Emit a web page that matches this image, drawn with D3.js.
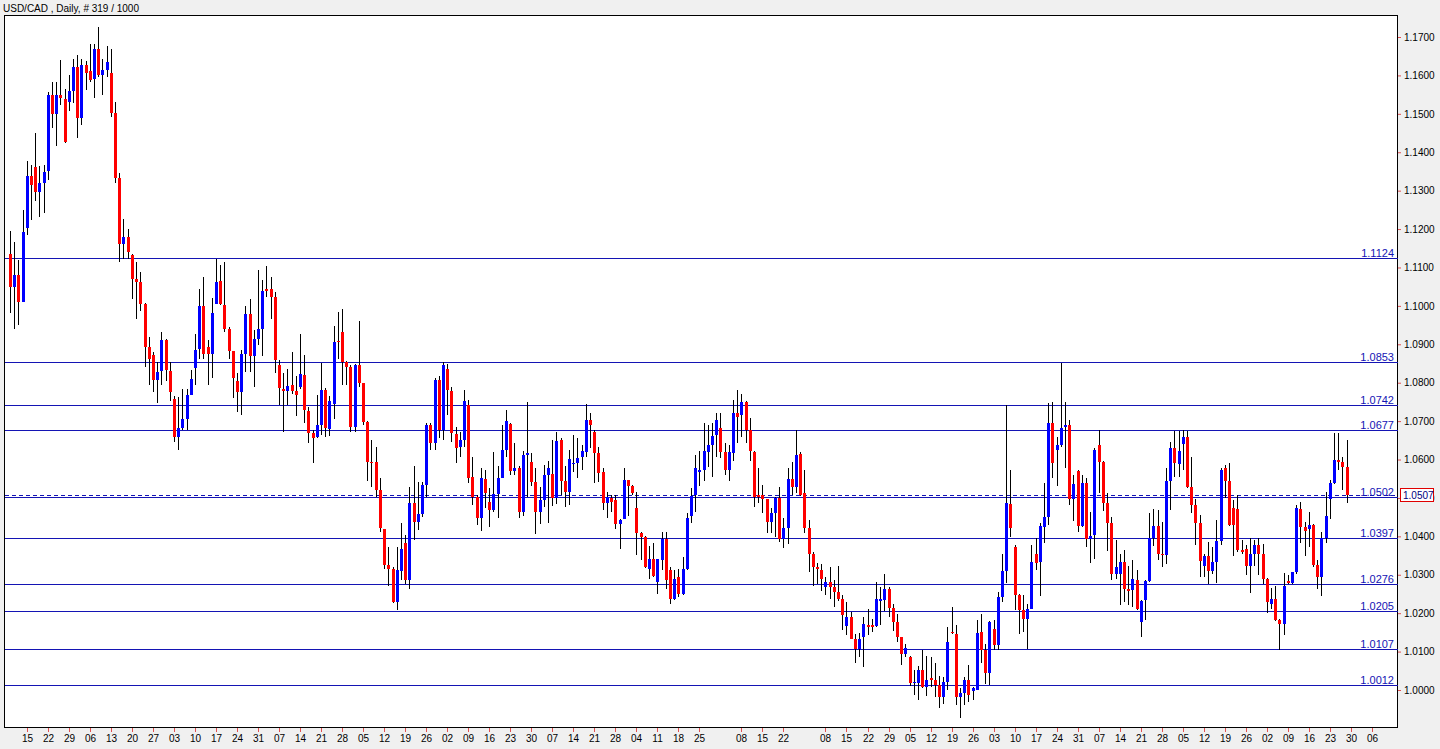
<!DOCTYPE html>
<html><head><meta charset="utf-8">
<script src="https://cdn.jsdelivr.net/npm/d3@7"></script>
<style>html,body{margin:0;padding:0;background:#f0f0f0;}svg{display:block;}</style>
</head><body>
<svg id="chart" width="1440" height="749"></svg>
<script>
// ---------------- DATA (USD/CAD daily) ----------------
const openP = [
1.1136,1.1050,1.1080,1.1011,1.1202,1.1338,1.1361,1.1297,1.1319,1.1352,
1.1549,1.1499,1.1549,1.1538,1.1531,1.1559,1.1622,1.1488,1.1627,1.1612,
1.1590,1.1670,1.1601,1.1614,1.1605,1.1503,1.1332,1.1160,1.1180,1.1132,
1.1071,1.1063,1.1004,1.0893,1.0872,1.0807,1.0830,1.0911,1.0830,1.0757,
1.0659,1.0681,1.0705,1.0769,1.0837,1.0887,1.0999,1.0893,1.0876,1.1006,
1.1065,1.1002,1.0941,1.0882,1.0805,1.0776,1.0874,1.0979,1.0869,1.0915,
1.0939,1.1043,1.1044,1.1024,1.0846,1.0783,1.0779,1.0794,1.0778,1.0788,
1.0820,1.0726,1.0670,1.0659,1.0690,1.0781,1.0679,1.0744,1.0909,1.0933,
1.0855,1.0842,1.0685,1.0846,1.0798,1.0698,1.0594,1.0594,1.0520,1.0418,
1.0325,1.0316,1.0230,1.0310,1.0382,1.0286,1.0488,1.0438,1.0458,1.0533,
1.0690,1.0644,1.0807,1.0677,1.0835,1.0779,1.0666,1.0633,1.0651,1.0742,
1.0555,1.0503,1.0449,1.0549,1.0490,1.0468,1.0510,1.0553,1.0626,1.0692,
1.0571,1.0579,1.0464,1.0612,1.0594,1.0542,1.0464,1.0494,1.0559,1.0562,
1.0501,1.0651,1.0545,1.0516,1.0590,1.0592,1.0607,1.0620,1.0703,1.0672,
1.0618,1.0567,1.0488,1.0500,1.0494,1.0431,1.0446,1.0546,1.0531,1.0474,
1.0410,1.0399,1.0316,1.0340,1.0282,1.0338,1.0392,1.0312,1.0237,1.0293,
1.0251,1.0315,1.0454,1.0507,1.0568,1.0572,1.0620,1.0638,1.0664,1.0681,
1.0620,1.0572,1.0618,1.0722,1.0717,1.0750,1.0677,1.0620,1.0507,1.0507,
1.0496,1.0438,1.0461,1.0501,1.0392,1.0421,1.0549,1.0529,1.0614,1.0512,
1.0421,1.0354,1.0321,1.0312,1.0267,1.0280,1.0269,1.0256,1.0237,1.0166,
1.0191,1.0134,1.0106,1.0137,1.0169,1.0169,1.0166,1.0232,1.0234,1.0263,
1.0214,1.0176,1.0137,1.0095,1.0086,1.0017,1.0019,1.0053,1.0008,1.0032,
1.0027,1.0013,0.9982,1.0020,1.0151,1.0145,0.9982,0.9993,1.0026,0.9998,
1.0001,1.0151,1.0105,1.0045,1.0158,1.0117,1.0243,1.0310,1.0484,1.0373,
1.0247,1.0208,1.0184,1.0212,1.0354,1.0334,1.0425,1.0451,1.0696,1.0626,
1.0637,1.0685,1.0690,1.0496,1.0571,1.0427,1.0539,1.0392,1.0403,1.0637,
1.0594,1.0486,1.0434,1.0303,1.0302,1.0334,1.0262,1.0260,1.0286,1.0178,
1.0234,1.0284,1.0397,1.0427,1.0354,1.0351,1.0544,1.0631,1.0588,1.0640,
1.0659,1.0529,1.0481,1.0435,1.0323,1.0349,1.0310,1.0332,1.0388,1.0578,
1.0544,1.0473,1.0471,1.0364,1.0368,1.0323,1.0355,1.0377,1.0355,1.0290,
1.0225,1.0237,1.0182,1.0171,1.0283,1.0279,1.0306,1.0470,1.0425,1.0419,
1.0429,1.0325,1.0295,1.0396,1.0496,1.0539,1.0600,1.0594,1.0581];
const highP = [
1.1195,1.1167,1.1119,1.1249,1.1377,1.1368,1.1451,1.1364,1.1366,1.1556,
1.1583,1.1583,1.1640,1.1564,1.1601,1.1642,1.1653,1.1642,1.1637,1.1681,
1.1681,1.1725,1.1644,1.1676,1.1670,1.1530,1.1347,1.1226,1.1200,1.1134,
1.1113,1.1089,1.1007,1.0919,1.0879,1.0854,1.0932,1.0913,1.0854,1.0766,
1.0763,1.0783,1.0783,1.0833,1.0928,1.1045,1.1074,1.0911,1.1021,1.1123,
1.1106,1.1115,1.0944,1.0883,1.0824,1.0885,1.1000,1.1019,1.0937,1.1093,
1.1067,1.1104,1.1074,1.1037,1.0859,1.0824,1.0835,1.0881,1.0817,1.0927,
1.0872,1.0737,1.0677,1.0768,1.0852,1.0785,1.0765,1.0947,1.0985,1.0991,
1.0857,1.0846,1.0848,1.0960,1.0800,1.0700,1.0651,1.0633,1.0551,1.0420,
1.0373,1.0319,1.0373,1.0434,1.0403,1.0529,1.0583,1.0542,1.0542,1.0696,
1.0694,1.0813,1.0817,1.0853,1.0848,1.0790,1.0684,1.0672,1.0781,1.0755,
1.0607,1.0507,1.0577,1.0573,1.0525,1.0620,1.0583,1.0690,1.0730,1.0694,
1.0644,1.0583,1.0623,1.0750,1.0618,1.0577,1.0529,1.0586,1.0597,1.0652,
1.0672,1.0655,1.0583,1.0626,1.0664,1.0655,1.0638,1.0744,1.0720,1.0677,
1.0633,1.0579,1.0516,1.0507,1.0507,1.0444,1.0577,1.0548,1.0533,1.0516,
1.0412,1.0401,1.0375,1.0383,1.0341,1.0412,1.0412,1.0321,1.0312,1.0316,
1.0347,1.0460,1.0525,1.0612,1.0622,1.0694,1.0691,1.0694,1.0720,1.0722,
1.0642,1.0638,1.0755,1.0781,1.0770,1.0752,1.0709,1.0622,1.0579,1.0533,
1.0497,1.0473,1.0503,1.0529,1.0448,1.0579,1.0593,1.0678,1.0620,1.0572,
1.0442,1.0360,1.0331,1.0328,1.0295,1.0319,1.0286,1.0323,1.0247,1.0230,
1.0204,1.0147,1.0149,1.0191,1.0212,1.0184,1.0282,1.0269,1.0302,1.0269,
1.0224,1.0199,1.0138,1.0121,1.0088,1.0052,1.0062,1.0105,1.0088,1.0086,
1.0069,1.0036,1.0034,1.0165,1.0215,1.0169,1.0006,1.0034,1.0065,1.0008,
1.0182,1.0197,1.0121,1.0180,1.0182,1.0256,1.0354,1.0742,1.0572,1.0377,
1.0251,1.0247,1.0225,1.0377,1.0395,1.0435,1.0538,1.0748,1.0750,1.0659,
1.0852,1.0750,1.0704,1.0559,1.0573,1.0559,1.0551,1.0464,1.0629,1.0678,
1.0596,1.0513,1.0451,1.0390,1.0355,1.0364,1.0322,1.0338,1.0312,1.0234,
1.0286,1.0460,1.0470,1.0468,1.0438,1.0577,1.0646,1.0674,1.0675,1.0677,
1.0675,1.0607,1.0496,1.0455,1.0355,1.0386,1.0373,1.0442,1.0577,1.0585,
1.0590,1.0494,1.0507,1.0390,1.0377,1.0395,1.0390,1.0396,1.0380,1.0292,
1.0266,1.0270,1.0184,1.0305,1.0299,1.0308,1.0481,1.0490,1.0438,1.0464,
1.0432,1.0338,1.0412,1.0516,1.0546,1.0668,1.0668,1.0607,1.0650];
const lowP = [
1.0982,1.0939,1.0950,1.1009,1.1184,1.1223,1.1274,1.1232,1.1241,1.1327,
1.1464,1.1417,1.1523,1.1425,1.1508,1.1527,1.1438,1.1472,1.1562,1.1583,
1.1542,1.1596,1.1549,1.1596,1.1492,1.1321,1.1115,1.1122,1.1123,1.1018,
1.0965,1.0986,1.0841,1.0794,1.0776,1.0748,1.0795,1.0805,1.0752,1.0646,
1.0624,1.0676,1.0676,1.0767,1.0795,1.0861,1.0861,1.0794,1.0813,1.1004,
1.1002,1.0932,1.0863,1.0761,1.0724,1.0716,1.0829,1.0829,1.0789,1.0898,
1.0869,1.1024,1.0966,1.0824,1.0742,1.0672,1.0742,1.0770,1.0713,1.0783,
1.0696,1.0642,1.0590,1.0655,1.0664,1.0659,1.0661,1.0705,1.0861,1.0794,
1.0794,1.0672,1.0672,1.0789,1.0690,1.0545,1.0529,1.0503,1.0412,1.0316,
1.0270,1.0227,1.0208,1.0286,1.0277,1.0264,1.0390,1.0416,1.0451,1.0503,
1.0625,1.0625,1.0655,1.0651,1.0716,1.0646,1.0592,1.0607,1.0633,1.0538,
1.0481,1.0429,1.0415,1.0473,1.0425,1.0464,1.0449,1.0551,1.0607,1.0559,
1.0559,1.0449,1.0453,1.0503,1.0531,1.0406,1.0432,1.0477,1.0434,1.0479,
1.0484,1.0507,1.0477,1.0481,1.0568,1.0551,1.0573,1.0607,1.0629,1.0538,
1.0542,1.0468,1.0447,1.0464,1.0418,1.0366,1.0444,1.0453,1.0507,1.0351,
1.0338,1.0318,1.0290,1.0294,1.0251,1.0312,1.0264,1.0224,1.0234,1.0243,
1.0247,1.0312,1.0434,1.0464,1.0531,1.0545,1.0581,1.0555,1.0607,1.0605,
1.0561,1.0545,1.0597,1.0642,1.0658,1.0642,1.0597,1.0477,1.0487,1.0461,
1.0409,1.0409,1.0399,1.0386,1.0369,1.0379,1.0507,1.0514,1.0505,1.0408,
1.0308,1.0271,1.0276,1.0258,1.0247,1.0238,1.0217,1.0232,1.0156,1.0143,
1.0132,1.0069,1.0086,1.0059,1.0143,1.0152,1.0165,1.0169,1.0206,1.0191,
1.0154,1.0125,1.0065,1.0085,1.0010,0.9986,0.9975,1.0006,0.9984,1.0008,
0.9982,0.9952,0.9963,1.0001,1.0147,0.9960,0.9928,0.9960,0.9969,0.9975,
1.0000,1.0069,1.0015,1.0013,1.0105,1.0105,1.0228,1.0279,1.0399,1.0208,
1.0147,1.0151,1.0106,1.0210,1.0312,1.0245,1.0383,1.0429,1.0551,1.0531,
1.0633,1.0577,1.0481,1.0440,1.0412,1.0425,1.0371,1.0331,1.0342,1.0513,
1.0467,1.0362,1.0286,1.0290,1.0221,1.0230,1.0221,1.0217,1.0208,1.0137,
1.0182,1.0282,1.0375,1.0338,1.0319,1.0329,1.0468,1.0555,1.0555,1.0574,
1.0527,1.0460,1.0377,1.0295,1.0295,1.0277,1.0302,1.0279,1.0377,1.0499,
1.0427,1.0349,1.0360,1.0355,1.0299,1.0253,1.0322,1.0299,1.0275,1.0201,
1.0212,1.0180,1.0105,1.0143,1.0277,1.0277,1.0302,1.0382,1.0349,1.0373,
1.0321,1.0264,1.0244,1.0382,1.0444,1.0537,1.0574,1.0520,1.0486];
const closeP = [
1.1050,1.1080,1.1011,1.1193,1.1338,1.1314,1.1297,1.1320,1.1349,1.1550,
1.1499,1.1550,1.1540,1.1427,1.1559,1.1621,1.1488,1.1627,1.1605,1.1588,
1.1668,1.1601,1.1614,1.1634,1.1503,1.1333,1.1160,1.1180,1.1139,1.1071,
1.1063,1.1006,1.0893,1.0863,1.0807,1.0828,1.0911,1.0833,1.0776,1.0659,
1.0681,1.0705,1.0769,1.0809,1.0885,1.0999,1.0876,1.0876,1.0982,1.1063,
1.1004,1.0941,1.0882,1.0811,1.0776,1.0874,1.0979,1.0869,1.0915,1.0939,
1.1039,1.1039,1.1024,1.0859,1.0785,1.0779,1.0791,1.0778,1.0768,1.0822,
1.0730,1.0670,1.0657,1.0690,1.0781,1.0681,1.0752,1.0907,1.0907,1.0855,
1.0840,1.0685,1.0846,1.0798,1.0698,1.0594,1.0592,1.0520,1.0422,1.0325,
1.0316,1.0230,1.0312,1.0367,1.0286,1.0488,1.0438,1.0458,1.0533,1.0690,
1.0644,1.0807,1.0677,1.0846,1.0781,1.0668,1.0629,1.0651,1.0752,1.0551,
1.0503,1.0449,1.0553,1.0513,1.0468,1.0510,1.0553,1.0626,1.0700,1.0571,
1.0579,1.0464,1.0612,1.0616,1.0542,1.0464,1.0494,1.0559,1.0579,1.0501,
1.0649,1.0545,1.0516,1.0601,1.0592,1.0605,1.0622,1.0703,1.0690,1.0618,
1.0566,1.0488,1.0503,1.0490,1.0431,1.0442,1.0546,1.0531,1.0513,1.0410,
1.0399,1.0321,1.0340,1.0296,1.0340,1.0392,1.0286,1.0237,1.0288,1.0251,
1.0316,1.0449,1.0506,1.0577,1.0572,1.0622,1.0638,1.0661,1.0704,1.0620,
1.0572,1.0620,1.0722,1.0711,1.0750,1.0677,1.0623,1.0503,1.0503,1.0497,
1.0438,1.0461,1.0501,1.0392,1.0421,1.0549,1.0529,1.0611,1.0507,1.0421,
1.0354,1.0321,1.0314,1.0290,1.0280,1.0269,1.0256,1.0238,1.0195,1.0189,
1.0134,1.0108,1.0134,1.0171,1.0165,1.0165,1.0236,1.0236,1.0264,1.0214,
1.0176,1.0138,1.0095,1.0110,1.0017,1.0021,1.0052,1.0008,1.0026,1.0027,
1.0013,0.9982,1.0020,1.0124,1.0149,0.9982,0.9993,1.0026,0.9986,1.0004,
1.0149,1.0105,1.0045,1.0178,1.0117,1.0243,1.0310,1.0487,1.0423,1.0247,
1.0208,1.0184,1.0212,1.0334,1.0331,1.0427,1.0451,1.0696,1.0591,1.0637,
1.0683,1.0690,1.0496,1.0535,1.0427,1.0539,1.0392,1.0401,1.0626,1.0594,
1.0487,1.0434,1.0303,1.0321,1.0334,1.0262,1.0258,1.0288,1.0210,1.0232,
1.0284,1.0397,1.0427,1.0353,1.0351,1.0544,1.0631,1.0590,1.0623,1.0659,
1.0529,1.0481,1.0435,1.0336,1.0349,1.0310,1.0332,1.0388,1.0572,1.0544,
1.0429,1.0429,1.0364,1.0360,1.0323,1.0355,1.0377,1.0355,1.0290,1.0228,
1.0237,1.0182,1.0171,1.0270,1.0279,1.0306,1.0473,1.0425,1.0414,1.0429,
1.0325,1.0295,1.0395,1.0453,1.0538,1.0600,1.0594,1.0581,1.0507];

const levels = [1.1124, 1.0853, 1.0742, 1.0677, 1.0502, 1.0397, 1.0276, 1.0205, 1.0107, 1.0012];
const lastPrice = 1.0507;
const priceTicks = [1.0000,1.0100,1.0200,1.0300,1.0400,1.0500,1.0600,1.0700,1.0800,
                    1.0900,1.1000,1.1100,1.1200,1.1300,1.1400,1.1500,1.1600,1.1700];
const dateLabels = ["15","22","29","06","13","20","27","03","10","17","24","31","07","14","21","28",
  "05","12","19","26","02","09","16","23","30","07","14","21","28","04","11","18","25","",
  "08","15","22","",
  "08","15","22","29","05","12","19","26","03","10","17","24","31","07","14","21","28",
  "05","12","19","26","02","09","16","23","30","06"];
const title = "USD/CAD , Daily, # 319 / 1000";

// ---------------- LAYOUT ----------------
const svg = d3.select("#chart");
const plot = {left: 4.5, top: 15.5, right: 1397.5, bottom: 727.5};
const nBars = openP.length;
const x = d3.scaleLinear().domain([0, nBars - 1]).range([10, 1346.7]);
const y = d3.scaleLinear().domain([1.0, 1.17]).range([690, 37]);
const FONT = "'Liberation Sans', Arial, sans-serif";
const LEVEL_COLOR = "#1414b4";
const BULL = "#0000ff", BEAR = "#ff0000";

svg.append("rect").attr("x",0).attr("y",0).attr("width",1440).attr("height",749).attr("fill","#f0f0f0");
svg.append("rect").attr("x",plot.left).attr("y",plot.top)
  .attr("width",plot.right-plot.left).attr("height",plot.bottom-plot.top)
  .attr("fill","#ffffff").attr("stroke","#000").attr("stroke-width",1);

// title
svg.append("text").attr("x",3).attr("y",12).attr("font-family",FONT).attr("font-size",10)
  .attr("fill","#000").text(title);

const g = svg.append("g").attr("shape-rendering","crispEdges");

// level lines
const lv = g.append("g");
levels.forEach(v => {
  const yy = Math.round(y(v)) + 0.5;
  lv.append("line").attr("x1",plot.left).attr("x2",plot.right).attr("y1",yy).attr("y2",yy)
    .attr("stroke",LEVEL_COLOR).attr("stroke-width",1);
  svg.append("text").attr("x",1394).attr("y",yy-2).attr("text-anchor","end")
    .attr("font-family",FONT).attr("font-size",11).attr("fill",LEVEL_COLOR)
    .text(d3.format(".4f")(v));
});
// bid line (dashed)
const by = Math.round(y(lastPrice)) + 0.5;
lv.append("line").attr("x1",plot.left).attr("x2",plot.right).attr("y1",by).attr("y2",by)
  .attr("stroke",LEVEL_COLOR).attr("stroke-width",1).attr("stroke-dasharray","4,3");

// candles
const idx = d3.range(nBars);
const cg = g.append("g");
cg.selectAll("rect.wick").data(idx).join("rect").attr("class","wick")
  .attr("x", i => Math.round(x(i)))
  .attr("y", i => Math.round(y(Math.max(highP[i], openP[i], closeP[i]))))
  .attr("width", 1)
  .attr("height", i => Math.max(1, Math.round(y(Math.min(lowP[i], openP[i], closeP[i]))) - Math.round(y(Math.max(highP[i], openP[i], closeP[i])))))
  .attr("fill", "#000");
cg.selectAll("rect.body").data(idx).join("rect").attr("class","body")
  .attr("x", i => Math.round(x(i)) - 1)
  .attr("y", i => Math.round(y(Math.max(openP[i], closeP[i]))))
  .attr("width", 3)
  .attr("height", i => Math.max(1, Math.round(y(Math.min(openP[i], closeP[i]))) - Math.round(y(Math.max(openP[i], closeP[i])))))
  .attr("fill", i => closeP[i] >= openP[i] ? BULL : BEAR);

// right price axis
const yAxis = d3.axisRight(y).tickValues(priceTicks).tickFormat(d3.format(".4f")).tickSize(3).tickPadding(3);
const ya = svg.append("g").attr("transform", `translate(${plot.right + 0.5},0)`).call(yAxis);
ya.select(".domain").remove();
ya.selectAll(".tick line").attr("stroke","#e05050");
ya.selectAll(".tick text").attr("font-family",FONT).attr("font-size",10).attr("fill","#000");

// bottom date axis
const tickBars = [], tickText = {};
dateLabels.forEach((d, k) => { if (d) { const b = 4 + 5 * k; tickBars.push(b); tickText[b] = d; } });
const xAxis = d3.axisBottom(x).tickValues(tickBars).tickFormat(b => tickText[b]).tickSize(4).tickPadding(3);
const xa = svg.append("g").attr("transform", `translate(0.5,${plot.bottom + 0.5})`).call(xAxis);
xa.select(".domain").remove();
xa.selectAll(".tick").attr("transform", b => `translate(${Math.round(x(b))},0)`);
xa.selectAll(".tick line").attr("stroke","#e05050");
xa.selectAll(".tick text").attr("font-family",FONT).attr("font-size",10).attr("fill","#000");

// last price label box
const lbl = svg.append("g");
lbl.append("rect").attr("x",1400.5).attr("y",Math.round(y(lastPrice)) - 6.5).attr("width",33).attr("height",13)
  .attr("fill","#ffffff").attr("stroke","#e00000").attr("stroke-width",1);
lbl.append("text").attr("x",1403).attr("y",Math.round(y(lastPrice)) + 4)
  .attr("font-family",FONT).attr("font-size",10).attr("fill","#000080").text(d3.format(".4f")(lastPrice));
</script>
</body></html>
